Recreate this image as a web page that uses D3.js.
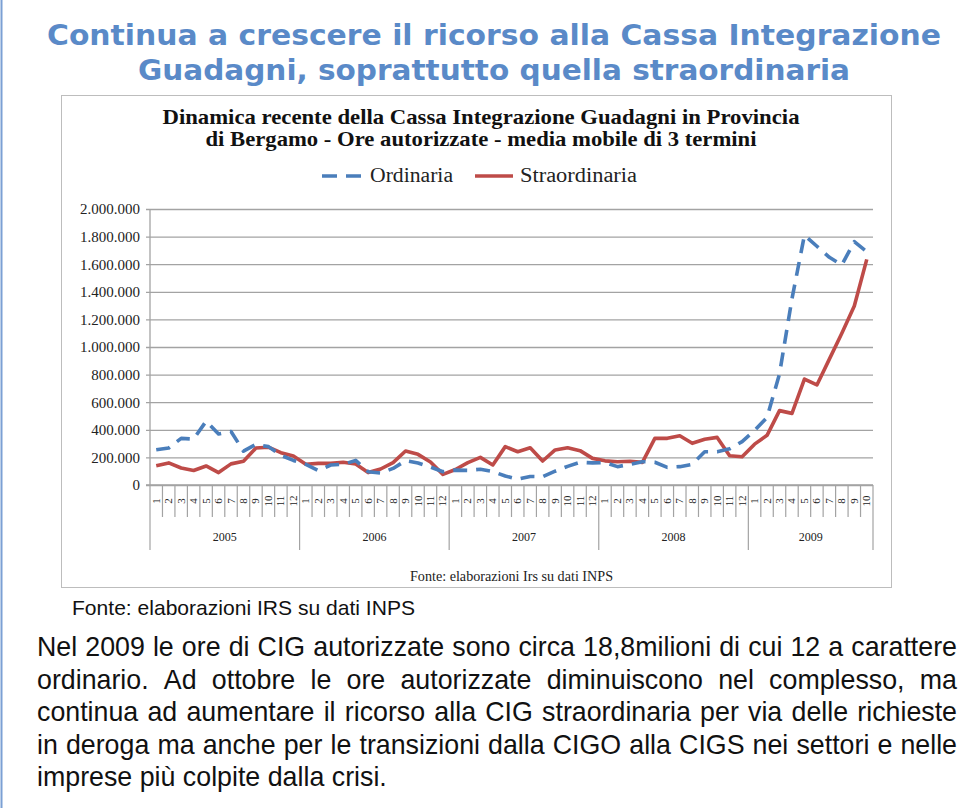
<!DOCTYPE html>
<html><head><meta charset="utf-8">
<script src="https://cdn.jsdelivr.net/npm/d3@7"></script>
<style>html,body{margin:0;padding:0;background:#fff;}svg{display:block;}</style>
</head><body>
<svg id="c" width="960" height="808"></svg>
<script>
// ---------- data ----------
const years = ["2005", "2006", "2007", "2008", "2009"];
const monthsPerYear = [12, 12, 12, 12, 10];
const monthLabels = [
  "1","2","3","4","5","6","7","8","9","10","11","12",
  "1","2","3","4","5","6","7","8","9","10","11","12",
  "1","2","3","4","5","6","7","8","9","10","11","12",
  "1","2","3","4","5","6","7","8","9","10","11","12",
  "1","2","3","4","5","6","7","8","9","10"
];
const ordinaria = [
  255000, 268000, 338000, 333000, 462000, 370000, 388000, 245000, 295000, 278000, 215000, 178000,
  150000, 105000, 145000, 150000, 178000, 96000, 86000, 120000, 176000, 160000, 130000, 96000,
  108000, 106000, 114000, 98000, 65000, 42000, 62000, 60000, 100000, 135000, 165000, 160000,
  162000, 133000, 150000, 169000, 165000, 128000, 133000, 150000, 241000, 241000, 262000, 314000,
  395000, 490000, 805000, 1350000, 1810000, 1730000, 1650000, 1595000, 1763000, 1690000
];
const straordinaria = [
  140000, 160000, 123000, 105000, 138000, 90000, 153000, 172000, 268000, 274000, 234000, 210000,
  150000, 157000, 157000, 165000, 152000, 90000, 116000, 162000, 246000, 222000, 167000, 77000,
  112000, 162000, 200000, 145000, 278000, 241000, 270000, 174000, 254000, 270000, 249000, 193000,
  175000, 169000, 172000, 164000, 338000, 338000, 357000, 302000, 331000, 345000, 212000, 205000,
  296000, 360000, 539000, 519000, 768000, 725000, 912000, 1099000, 1297000, 1635000
];
const yTicks = [0, 200000, 400000, 600000, 800000, 1000000, 1200000, 1400000, 1600000, 1800000, 2000000];
const seriesNames = ["Ordinaria", "Straordinaria"];

const pageTitle = ["Continua a crescere il ricorso alla Cassa Integrazione",
                   "Guadagni, soprattutto quella straordinaria"];
const chartTitle = ["Dinamica recente della Cassa Integrazione Guadagni in Provincia",
                    "di Bergamo - Ore autorizzate - media mobile di 3 termini"];
const innerSource = "Fonte: elaborazioni Irs su dati INPS";
const outerSource = "Fonte: elaborazioni IRS  su dati INPS";
const paragraph = [
  "Nel 2009 le ore di CIG autorizzate sono circa 18,8milioni di cui 12 a carattere",
  "ordinario. Ad ottobre le ore autorizzate diminuiscono nel complesso, ma",
  "continua ad aumentare il ricorso alla CIG straordinaria per via delle richieste",
  "in deroga ma anche per le transizioni dalla CIGO alla CIGS nei settori e nelle",
  "imprese più colpite dalla crisi."
];

// ---------- drawing ----------
const svg = d3.select("#c");
const BLUE = "#4A7EBB", RED = "#BE4B48", TITLE = "#5A8AC8";
const serif = "'Liberation Serif', 'DejaVu Serif', serif";
const sans = "'Liberation Sans', Arial, sans-serif";

// left page border
svg.append("line").attr("x1", 1.5).attr("x2", 1.5).attr("y1", 0).attr("y2", 808)
  .attr("stroke", "#7BA0D4").attr("stroke-width", 2);

// page title
pageTitle.forEach((t, i) => {
  svg.append("text").attr("x", 494).attr("y", [45, 80][i]).attr("text-anchor", "middle")
    .attr("font-family", "'DejaVu Sans', Verdana, sans-serif").attr("font-weight", "bold")
    .attr("font-size", 29).attr("fill", TITLE)
    .attr("textLength", [894, 712][i]).attr("lengthAdjust", "spacingAndGlyphs").text(t);
});

// chart frame
svg.append("rect").attr("x", 61.5).attr("y", 95.5).attr("width", 830).attr("height", 492)
  .attr("fill", "#fff").attr("stroke", "#BDBDBD").attr("stroke-width", 1);

// chart title
chartTitle.forEach((t, i) => {
  svg.append("text").attr("x", 481).attr("y", [124, 146][i]).attr("text-anchor", "middle")
    .attr("font-family", serif).attr("font-weight", "bold").attr("font-size", 21).attr("fill", "#111")
    .attr("textLength", [637, 551][i]).attr("lengthAdjust", "spacingAndGlyphs").text(t);
});

// legend
const leg = svg.append("g");
leg.append("line").attr("x1", 322).attr("x2", 362).attr("y1", 176).attr("y2", 176)
  .attr("stroke", BLUE).attr("stroke-width", 3.5).attr("stroke-dasharray", "15,9");
leg.append("text").attr("x", 370).attr("y", 182).attr("font-family", serif).attr("font-size", 20)
  .attr("fill", "#222").attr("textLength", 83).attr("lengthAdjust", "spacingAndGlyphs").text(seriesNames[0]);
leg.append("line").attr("x1", 475).attr("x2", 513).attr("y1", 176).attr("y2", 176)
  .attr("stroke", RED).attr("stroke-width", 3.5);
leg.append("text").attr("x", 520).attr("y", 182).attr("font-family", serif).attr("font-size", 20)
  .attr("fill", "#222").attr("textLength", 117).attr("lengthAdjust", "spacingAndGlyphs").text(seriesNames[1]);

// scales
const x = d3.scaleBand().domain(d3.range(monthLabels.length)).range([150, 873]).paddingInner(0).paddingOuter(0);
const y = d3.scaleLinear().domain([0, 2000000]).range([485, 209]);
const cx = i => x(i) + x.bandwidth() / 2;

const itLocale = d3.formatLocale({decimal: ",", thousands: ".", grouping: [3], currency: ["€", ""]});
const fmt = itLocale.format(",d");

// y axis with gridlines
const yAxis = d3.axisLeft(y).tickValues(yTicks).tickFormat(fmt).tickSize(-(873 - 150)).tickPadding(10);
const gy = svg.append("g").attr("transform", "translate(150,0)").call(yAxis);
gy.select(".domain").remove();
gy.selectAll(".tick line").attr("x1", -4).attr("stroke", "#A3A3A3").attr("stroke-width", 1.3);
gy.selectAll(".tick text").attr("font-family", serif).attr("font-size", 15).attr("fill", "#222");

// vertical axis line
svg.append("line").attr("x1", 150).attr("x2", 150).attr("y1", y(2000000)).attr("y2", 485)
  .attr("stroke", "#A3A3A3").attr("stroke-width", 1.3);

// x axis: month separators & labels
const gx = svg.append("g");
const yearStarts = [];
let acc = 0;
monthsPerYear.forEach(n => { yearStarts.push(acc); acc += n; });
monthLabels.forEach((m, i) => {
  const isYear = yearStarts.includes(i);
  gx.append("line").attr("x1", x(i)).attr("x2", x(i)).attr("y1", 485).attr("y2", isYear ? 550 : 517)
    .attr("stroke", "#A3A3A3").attr("stroke-width", 1.2);
  gx.append("text").attr("transform", `translate(${cx(i) + 3.5},501) rotate(-90)`)
    .attr("text-anchor", "middle").attr("font-family", serif).attr("font-size", 11).attr("fill", "#222").text(m);
});
gx.append("line").attr("x1", 873).attr("x2", 873).attr("y1", 485).attr("y2", 550)
  .attr("stroke", "#A3A3A3").attr("stroke-width", 1.2);
// baseline
svg.append("line").attr("x1", 146).attr("x2", 873).attr("y1", 485).attr("y2", 485)
  .attr("stroke", "#A3A3A3").attr("stroke-width", 1.3);
// year labels
years.forEach((yr, k) => {
  const s = yearStarts[k], e = s + monthsPerYear[k];
  const mid = (x(s) + (e < monthLabels.length ? x(e) : 873)) / 2;
  gx.append("text").attr("x", mid).attr("y", 541).attr("text-anchor", "middle")
    .attr("font-family", serif).attr("font-size", 12).attr("fill", "#222").text(yr);
});

// lines
const line = d3.line().x((d, i) => cx(i)).y(d => y(d));
svg.append("path").datum(straordinaria).attr("d", line).attr("fill", "none")
  .attr("stroke", RED).attr("stroke-width", 3.6).attr("stroke-linejoin", "round");
svg.append("path").datum(ordinaria).attr("d", line).attr("fill", "none")
  .attr("stroke", BLUE).attr("stroke-width", 3.6).attr("stroke-dasharray", "14,9").attr("stroke-linejoin", "round");

// inner source
svg.append("text").attr("x", 410).attr("y", 581).attr("font-family", serif).attr("font-size", 14)
  .attr("fill", "#222").attr("textLength", 203).attr("lengthAdjust", "spacingAndGlyphs").text(innerSource);

// outer source
svg.append("text").attr("x", 72).attr("y", 615).attr("font-family", sans).attr("font-size", 21)
  .attr("fill", "#111").attr("textLength", 343).attr("lengthAdjust", "spacingAndGlyphs").text(outerSource);

// justified paragraph
const FS = 27;
const probe = svg.append("text").attr("font-family", sans).attr("font-size", FS).text(paragraph[4]);
const lastW = probe.node().getComputedTextLength();
probe.remove();
const sx = 350 / lastW;
const para = svg.append("g").attr("transform", `translate(37,0) scale(${sx},1)`);
const baselines = [656, 689, 721, 754, 786];
const fullW = 920 / sx;
paragraph.forEach((ln, li) => {
  const words = ln.split(" ");
  const t = para.append("text").attr("y", baselines[li]).attr("font-family", sans)
    .attr("font-size", FS).attr("fill", "#111");
  const spans = words.map(w => t.append("tspan").text(w));
  const widths = spans.map(s => s.node().getComputedTextLength());
  const total = d3.sum(widths);
  const spaceW = 0.278 * FS;
  const gap = (li < paragraph.length - 1) ? (fullW - total) / (words.length - 1) : spaceW;
  let xx = 0;
  spans.forEach((s, k) => { s.attr("x", xx); xx += widths[k] + gap; });
});
</script>
</body></html>
